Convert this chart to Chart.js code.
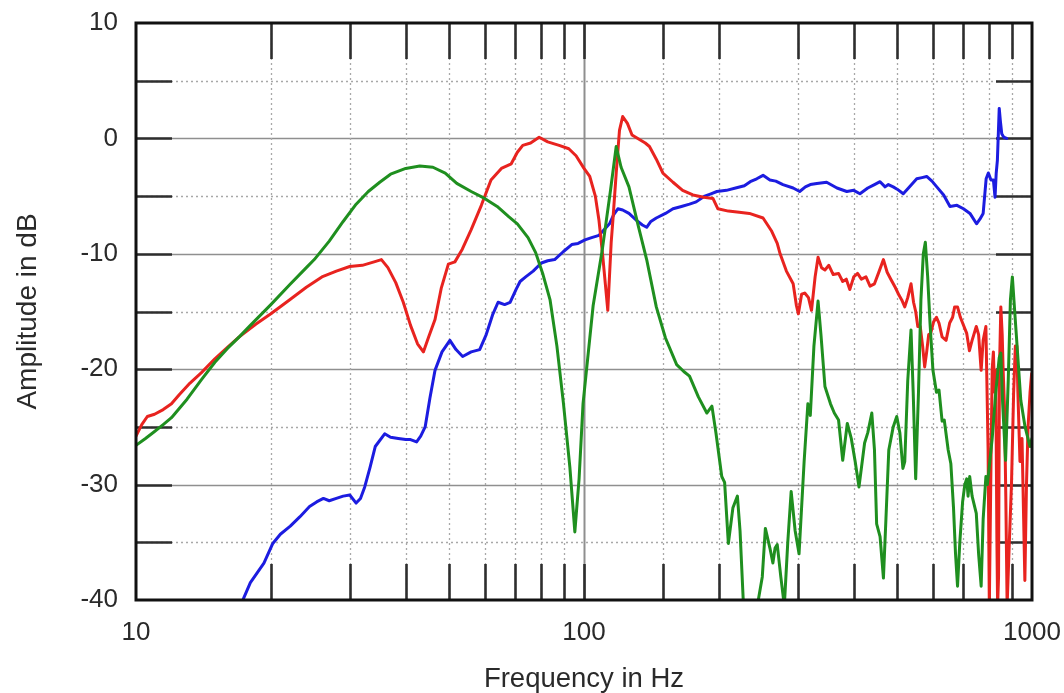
<!DOCTYPE html>
<html><head><meta charset="utf-8">
<script src="https://cdn.jsdelivr.net/npm/chart.js@4.4.0/dist/chart.umd.min.js"></script>
<style>html,body{margin:0;padding:0;background:#fff;overflow:hidden}</style>
</head><body>
<canvas id="c" width="1064" height="693"></canvas>
<script>
// ---- data (frequency in Hz, amplitude in dB) ----
const greenFreq = [10,10.5,11,11.5,12,13,14,15,16,17,18,20,22,24,25,27,29,31,33,35,37,40,43,46,49,52,56,60,64,68,71,75,78,81,84,87,90,93,95.4,97.5,99.5,104.8,109.8,114.6,118,121,126,132,138,145,152,161,167,172,180,188,193,197,203,206,210,215,220,223,227,240,250,254,260,264,267,270,275,280,285,290,296,302,310,316,320,326,333,338,345,355,362,370,378,387,395,403,411,423,430,439,445,450,458,466,472,479,490,499,507,515,520,528,537,543,550,558,565,572,578,585,592,601,612,620,630,637,650,659,668,675,682,690,700,708,715,720,726,735,751,760,770,778,789,795,805,815,830,845,852,860,873,885,895,904,915,930,944,965,990,1000];
const greenDb = [-26.6,-26.0,-25.4,-24.8,-24.2,-22.6,-20.9,-19.4,-18.2,-17.2,-16.2,-14.4,-12.7,-11.2,-10.5,-8.9,-7.2,-5.7,-4.6,-3.8,-3.1,-2.6,-2.4,-2.5,-3.0,-3.9,-4.6,-5.2,-5.9,-6.8,-7.4,-8.6,-9.9,-11.8,-14.0,-18.0,-23.0,-28.5,-34.1,-29.5,-23.0,-14.5,-9.7,-4.5,-0.7,-2.5,-4.2,-7.5,-10.5,-14.6,-17.3,-19.6,-20.2,-20.6,-22.4,-23.8,-23.2,-25.5,-29.3,-29.8,-35.1,-32.0,-31.0,-34.0,-40.5,-42,-38,-33.8,-35.5,-36.8,-35.5,-35.2,-38,-40.5,-35,-30.6,-34,-36,-28,-23,-24,-18,-14.1,-17,-21.5,-23,-23.8,-24.4,-27.9,-24.7,-26,-28,-30.2,-26.4,-25.5,-23.8,-27,-33.4,-34.5,-38.1,-33,-27.0,-25,-24.1,-25.5,-28.6,-28,-21,-16.6,-22,-29.5,-22,-14,-10,-9.0,-12,-16,-20.1,-22,-21.8,-24.5,-24.4,-27,-28.2,-32,-36,-38.8,-35,-31.5,-30,-29.5,-31,-29.3,-31,-32.5,-36,-38.8,-33,-29.3,-30,-28,-26,-22,-19,-18.6,-23,-27.9,-21,-14,-12.0,-15,-19,-22.7,-25,-26.7,-26];

const redFreq = [10,10.3,10.6,11,11.5,12,12.5,13.2,14,15,16,17,18.5,20,22,24,26,28,30,32,34,35.3,36.5,38,39.5,41,42.5,43.8,45,46.5,48,49.8,51.5,53.5,56,59,62,65.4,68.8,71,73,76,79.4,83,88,92.5,96,100,103,106,108,110,113,115,116,118,120,122,125,128,133,137,140,145,150,158,166,175,185,194,199,210,222,234,251,262,270,274,283,293,298,301,306,311,317,322,328,333,339,345,352,360,370,378,385,392,400,408,416,426,435,445,456,466,475,484,495,505,512,520,528,537,544,550,556,563,570,576,582,588,594,603,612,620,630,643,655,665,672,682,692,700,715,725,735,751,760,770,778,789,793,798,803,810,815,820,825,830,835,838,842,846,852,858,862,868,874,880,890,900,910,918,925,930,940,950,958,964,972,980,990,998,1000];
const redDb = [-25.8,-24.8,-24.1,-23.9,-23.5,-23.0,-22.2,-21.2,-20.3,-19.1,-18.1,-17.2,-16.1,-15.2,-14.0,-12.9,-12.0,-11.5,-11.1,-11.0,-10.7,-10.5,-11.2,-12.5,-14.2,-16.2,-17.8,-18.5,-17.2,-15.7,-13.0,-10.9,-10.7,-9.6,-7.9,-5.8,-3.6,-2.6,-2.2,-1.2,-0.6,-0.4,0.1,-0.3,-0.6,-0.9,-1.5,-2.6,-3.3,-5.0,-7.1,-10,-14.9,-9,-7.1,-3,0.7,1.9,1.3,0.3,-0.1,-0.4,-0.7,-1.8,-3.0,-3.8,-4.5,-4.9,-5.1,-5.2,-6.1,-6.3,-6.4,-6.5,-6.9,-8,-9.1,-10.0,-11.5,-12.6,-14.5,-15.2,-13.5,-13.4,-13.8,-14.9,-12,-10.3,-11.2,-11.4,-11.0,-11.8,-11.7,-12.4,-12.2,-13.1,-12.0,-11.7,-12.2,-12.0,-12.8,-12.6,-11.5,-10.5,-11.6,-12.2,-12.9,-13.6,-14.0,-14.6,-13.8,-12.6,-14.2,-15.0,-16.3,-16.3,-18,-19.8,-18.5,-17.0,-16.9,-15.9,-15.5,-16.0,-17.2,-17.5,-16.0,-15.5,-14.6,-14.6,-15.5,-16.0,-16.9,-18.4,-17.5,-16.3,-17.0,-20.1,-17.5,-16.3,-21,-27,-40.5,-28,-20,-18.5,-22,-20.1,-35,-40.5,-38,-20,-14.6,-17,-20,-23.2,-31,-40.5,-35,-29.9,-22,-18,-18.0,-22,-28,-26,-33,-38.3,-30,-25,-22,-20.4,-20.5];

const blueFreq = [17.1,18,19.3,20.2,21,22.1,23.2,24.4,25.3,26.2,27,28,29,30,31,31.7,32.4,33.3,34.2,35.9,37,38.5,40,41,42.3,43.2,44.2,45.3,46.5,48.2,50.2,51.8,53.6,56,58.5,60.5,62.5,64.3,66.5,68.4,70.5,72,74.1,77,80.3,83,86,90,93.9,97,100.5,104,108,111,114,116.5,119,122,126,131,135,138,141,145,152,158,165,172,178,186,192,198,208,218,228,235,243,251,260,268,278,293,303,312,320,331,348,367,386,400,413,430,445,458,470,478,490,500,516,530,553,568,582,598,613,635,656,680,703,727,752,765,778,790,799,810,820,827,832,837,845,850,856,865,878];
const blueDb = [-40.5,-38.5,-36.8,-35.1,-34.3,-33.6,-32.8,-31.9,-31.5,-31.2,-31.4,-31.2,-31.0,-30.9,-31.6,-31.2,-30.2,-28.5,-26.7,-25.6,-25.9,-26.0,-26.1,-26.1,-26.3,-25.8,-25.0,-22.5,-20.1,-18.5,-17.5,-18.3,-18.9,-18.5,-18.3,-17,-15.3,-14.2,-14.4,-14.2,-13.1,-12.4,-12.0,-11.5,-10.8,-10.6,-10.5,-9.8,-9.2,-9.1,-8.8,-8.6,-8.4,-7.9,-7.4,-6.6,-6.1,-6.2,-6.5,-7.1,-7.5,-7.7,-7.2,-6.9,-6.5,-6.1,-5.9,-5.7,-5.5,-5.0,-4.8,-4.6,-4.5,-4.3,-4.1,-3.75,-3.5,-3.2,-3.6,-3.7,-4.0,-4.3,-4.6,-4.2,-4.0,-3.9,-3.8,-4.3,-4.6,-4.5,-4.8,-4.3,-4.0,-3.75,-4.2,-4.0,-4.2,-4.4,-4.8,-4.3,-3.5,-3.4,-3.3,-3.7,-4.2,-4.9,-5.9,-5.8,-6.1,-6.5,-7.4,-7.0,-6.5,-3.5,-3.0,-3.6,-3.6,-5.1,-3.0,-1.9,2.6,1.5,0.4,0.1,0.0];

const xTickLabels = [10, 100, 1000];
const yTickLabels = [-40, -30, -20, -10, 0, 10];
const xTitle = 'Frequency in Hz';
const yTitle = 'Amplitude in dB';

const toPts = (f, d) => f.map((v, i) => ({x: v, y: d[i]}));

const FONT = "'Liberation Sans', Arial, Helvetica, sans-serif";

const framePlugin = {
  id: 'frame',
  beforeDatasetsDraw(chart) {
    const {ctx, chartArea: a, scales: {x, y}} = chart;
    const line = (x1, y1, x2, y2) => { ctx.beginPath(); ctx.moveTo(x1, y1); ctx.lineTo(x2, y2); ctx.stroke(); };
    ctx.save();
    for (let v = y.min + 5; v < y.max; v += 5) {
      const py = Math.round(y.getPixelForValue(v)) + 0.5;
      if (v % 10 === 0) { ctx.setLineDash([]); ctx.strokeStyle = '#8f8f8f'; ctx.lineWidth = 1.6; }
      else { ctx.setLineDash([2, 3]); ctx.strokeStyle = '#a8a8a8'; ctx.lineWidth = 1.3; }
      line(a.left, py, a.right, py);
    }
    x.ticks.forEach(t => {
      const v = t.value;
      if (v <= x.min || v >= x.max) return;
      const px = Math.round(x.getPixelForValue(v)) + 0.5;
      const decade = Math.abs(Math.log10(v) - Math.round(Math.log10(v))) < 1e-6;
      if (decade) { ctx.setLineDash([]); ctx.strokeStyle = '#8f8f8f'; ctx.lineWidth = 2; }
      else { ctx.setLineDash([2, 3]); ctx.strokeStyle = '#a8a8a8'; ctx.lineWidth = 1.3; }
      line(px, a.top, px, a.bottom);
    });
    ctx.setLineDash([]);
    ctx.strokeStyle = '#2e2e2e';
    ctx.lineWidth = 2.6;
    const L = 36;
    for (let v = y.min + 5; v < y.max; v += 5) {
      const py = Math.round(y.getPixelForValue(v)) + 0.5;
      line(a.left, py, a.left + L, py);
      line(a.right - L, py, a.right, py);
    }
    x.ticks.forEach(t => {
      const v = t.value;
      if (v <= x.min || v >= x.max) return;
      const px = Math.round(x.getPixelForValue(v)) + 0.5;
      line(px, a.top, px, a.top + L);
      line(px, a.bottom - L, px, a.bottom);
    });
    ctx.restore();
  },
  afterDatasetsDraw(chart) {
    const {ctx, chartArea: a} = chart;
    ctx.save();
    ctx.strokeStyle = '#111';
    ctx.lineWidth = 3;
    ctx.strokeRect(a.left, a.top, a.right - a.left, a.bottom - a.top);
    ctx.restore();
  }
};

new Chart(document.getElementById('c'), {
  type: 'line',
  data: {
    datasets: [
      {label: 'green', data: toPts(greenFreq, greenDb), borderColor: '#1f8f1f', borderWidth: 3},
      {label: 'red', data: toPts(redFreq, redDb), borderColor: '#e8231f', borderWidth: 3},
      {label: 'blue', data: toPts(blueFreq, blueDb), borderColor: '#1c1ce0', borderWidth: 3}
    ]
  },
  options: {
    responsive: false,
    animation: false,
    devicePixelRatio: 1,
    elements: {point: {radius: 0}, line: {tension: 0, fill: false, borderJoinStyle: 'round', borderCapStyle: 'round'}},
    layout: {padding: {top: 23, right: 32, left: 0, bottom: 0}},
    plugins: {legend: {display: false}, tooltip: {enabled: false}},
    scales: {
      x: {
        type: 'logarithmic', min: 10, max: 1000,
        grid: {display: false, drawTicks: false},
        border: {display: false},
        afterFit(s) { s.height = 93; s.paddingLeft = 0; s.paddingRight = 0; },
        ticks: {
          autoSkip: false, maxRotation: 0, padding: 17, color: '#2a2a2a',
          font: {family: FONT, size: 26},
          callback: (v) => xTickLabels.includes(v) ? String(v) : ''
        },
        title: {display: true, text: xTitle, color: '#2a2a2a', font: {family: FONT, size: 27.5}, padding: {top: 0, bottom: -3}}
      },
      y: {
        type: 'linear', min: -40, max: 10,
        grid: {display: false, drawTicks: false},
        border: {display: false},
        afterFit(s) { s.width = 136; s.paddingTop = 0; s.paddingBottom = 0; },
        afterBuildTicks(s) { s.ticks = yTickLabels.map(v => ({value: v})); },
        ticks: {
          padding: 18, color: '#2a2a2a',
          font: {family: FONT, size: 26},
          callback: (v) => String(v)
        },
        title: {display: true, text: yTitle, color: '#2a2a2a', font: {family: FONT, size: 28}, padding: {top: 11, bottom: 0}}
      }
    }
  },
  plugins: [framePlugin]
});
</script>
</body></html>
